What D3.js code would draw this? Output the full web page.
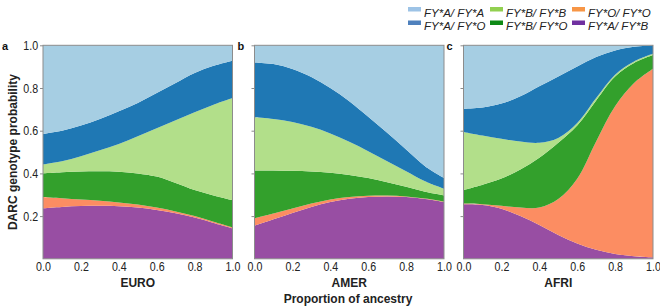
<!DOCTYPE html>
<html>
<head>
<meta charset="utf-8">
<script src="https://cdn.jsdelivr.net/npm/d3@7"></script>
<style>
  body { margin: 0; background: #fff; }
  svg { display: block; }
  .bold { font-family: "Liberation Sans", Arial, sans-serif; font-weight: bold; }
</style>
</head>
<body>
<svg width="660" height="306"></svg>
<script>
// proportion of ancestry (x)
var ancestry = [0, 0.1, 0.2, 0.3, 0.4, 0.5, 0.6, 0.7, 0.8, 0.9, 1.0];
var yTicks = [0.2, 0.4, 0.6, 0.8, 1.0];
var xTicks = [0, 0.2, 0.4, 0.6, 0.8, 1.0];
var panelNames = ["EURO", "AMER", "AFRI"];
var panelLetters = ["a", "b", "c"];

// stacking order, bottom -> top
var genotypes = ["AB", "OO", "BO", "BB", "AO", "AA"];
var genoLabels = { AA: "FY*A/ FY*A", AO: "FY*A/ FY*O", BB: "FY*B/ FY*B", BO: "FY*B/ FY*O", OO: "FY*O/ FY*O", AB: "FY*A/ FY*B" };
var legendOrder = ["AA", "BB", "OO", "AO", "BO", "AB"];

// EURO
var euroAB = [0.237, 0.243, 0.247, 0.248, 0.246, 0.240, 0.229, 0.213, 0.193, 0.168, 0.143];
var euroOO = [0.053, 0.041, 0.031, 0.024, 0.018, 0.014, 0.011, 0.009, 0.007, 0.006, 0.005];
var euroBO = [0.110, 0.121, 0.131, 0.138, 0.144, 0.146, 0.145, 0.133, 0.122, 0.123, 0.127];
var euroBB = [0.042, 0.052, 0.071, 0.098, 0.130, 0.174, 0.226, 0.294, 0.364, 0.425, 0.478];
var euroAO = [0.143, 0.143, 0.144, 0.147, 0.153, 0.156, 0.166, 0.174, 0.184, 0.182, 0.175];
var euroAA = [0.415, 0.400, 0.376, 0.345, 0.309, 0.270, 0.223, 0.177, 0.130, 0.096, 0.072];
// AMER
var amerAB = [0.155, 0.185, 0.215, 0.243, 0.266, 0.281, 0.289, 0.292, 0.289, 0.280, 0.266];
var amerOO = [0.035, 0.027, 0.021, 0.016, 0.012, 0.009, 0.006, 0.004, 0.003, 0.002, 0.002];
var amerBO = [0.224, 0.202, 0.176, 0.150, 0.125, 0.102, 0.083, 0.063, 0.045, 0.032, 0.029];
var amerBB = [0.249, 0.241, 0.229, 0.209, 0.184, 0.156, 0.126, 0.098, 0.073, 0.049, 0.031];
var amerAO = [0.257, 0.257, 0.248, 0.233, 0.213, 0.190, 0.161, 0.133, 0.102, 0.071, 0.051];
var amerAA = [0.080, 0.088, 0.111, 0.149, 0.200, 0.262, 0.335, 0.410, 0.488, 0.566, 0.621];
// AFRI
var afriAB = [0.255, 0.252, 0.235, 0.200, 0.158, 0.112, 0.072, 0.042, 0.023, 0.012, 0.007];
var afriOO = [0.004, 0.004, 0.013, 0.040, 0.082, 0.168, 0.303, 0.508, 0.691, 0.811, 0.883];
var afriBO = [0.063, 0.091, 0.128, 0.178, 0.233, 0.263, 0.249, 0.192, 0.140, 0.094, 0.064];
var afriBB = [0.272, 0.230, 0.186, 0.131, 0.070, 0.023, 0.012, 0.011, 0.008, 0.007, 0.006];
var afriAO = [0.109, 0.132, 0.165, 0.212, 0.265, 0.288, 0.265, 0.192, 0.114, 0.069, 0.039];
var afriAA = [0.297, 0.291, 0.273, 0.239, 0.192, 0.146, 0.099, 0.055, 0.024, 0.007, 0.001];

var areaColor = { AA: "#a6cee3", AO: "#1f78b4", BB: "#b2df8a", BO: "#33a02c", OO: "#fc8d62", AB: "#984ea3" };
var legendColor = { AA: "#9dc3e6", AO: "#4f81bd", BB: "#92d050", BO: "#0e8a16", OO: "#f79646", AB: "#7030a0" };

var panelSeries = [
  { AB: euroAB, OO: euroOO, BO: euroBO, BB: euroBB, AO: euroAO, AA: euroAA },
  { AB: amerAB, OO: amerOO, BO: amerBO, BB: amerBB, AO: amerAO, AA: amerAA },
  { AB: afriAB, OO: afriOO, BO: afriBO, BB: afriBB, AO: afriAO, AA: afriAA }
];

var svg = d3.select("svg");
var panelLeft = [43, 254.5, 463.5],
    panelW = 189.5,
    plotTop = 45.3, plotBottom = 258.8;

var y = d3.scaleLinear().domain([0, 1]).range([plotBottom, plotTop]);
var stack = d3.stack().keys(genotypes);

function styleTicks(sel) {
  sel.selectAll("text")
    .attr("font-family", "Liberation Sans, Arial, sans-serif")
    .attr("font-size", 13).attr("fill", "#222")
    .attr("transform", "scale(0.82,1)");
}

panelNames.forEach(function(name, p) {
  var x = d3.scaleLinear().domain([0, 1]).range([panelLeft[p], panelLeft[p] + panelW]);
  var s = panelSeries[p];
  var rows = ancestry.map(function(a, i) {
    var r = { a: a };
    genotypes.forEach(function(k) { r[k] = s[k][i]; });
    return r;
  });
  var area = d3.area()
      .x(function(d) { return x(d.data.a); })
      .y0(function(d) { return y(d[0]); })
      .y1(function(d) { return y(Math.min(1, d[1])); })
      .curve(d3.curveCatmullRom.alpha(0.5));

  var g = svg.append("g").attr("class", "panel");
  g.selectAll("path.layer")
    .data(stack(rows))
    .enter().append("path")
      .attr("class", "layer")
      .attr("d", area)
      .attr("fill", function(d) { return areaColor[d.key]; });

  g.append("rect")
    .attr("x", panelLeft[p]).attr("y", plotTop)
    .attr("width", panelW).attr("height", plotBottom - plotTop)
    .attr("fill", "none").attr("stroke", "#8c8c8c").attr("stroke-width", 1);

  var ya = g.append("g")
      .attr("transform", "translate(" + panelLeft[p] + ",0)")
      .call(d3.axisLeft(y).tickValues(yTicks).tickSize(3).tickPadding(3)
        .tickFormat(p === 0 ? d3.format(".1f") : function() { return ""; }));
  ya.select(".domain").remove();
  ya.selectAll("line").attr("stroke", "#8c8c8c");
  styleTicks(ya);

  var xa = g.append("g")
      .attr("transform", "translate(0," + plotBottom + ")")
      .call(d3.axisBottom(x).tickValues(xTicks).tickSize(0).tickPadding(3).tickFormat(d3.format(".1f")));
  xa.select(".domain").remove();
  styleTicks(xa);

  g.append("text")
    .attr("class", "bold")
    .attr("x", panelLeft[p] + panelW / 2).attr("y", 287)
    .attr("text-anchor", "middle").attr("font-size", 12).attr("fill", "#222")
    .text(name);

  g.append("text")
    .attr("class", "bold")
    .attr("x", p === 0 ? 2 : panelLeft[p] - 17).attr("y", 50)
    .attr("font-size", 11).attr("fill", "#111")
    .text(panelLetters[p]);
});

svg.append("text")
  .attr("class", "bold")
  .attr("transform", "translate(17," + ((plotTop + plotBottom) / 2) + ") rotate(-90)")
  .attr("text-anchor", "middle").attr("font-size", 12).attr("fill", "#222")
  .text("DARC genotype probability");

svg.append("text")
  .attr("class", "bold")
  .attr("x", 348).attr("y", 303)
  .attr("text-anchor", "middle").attr("font-size", 12).attr("fill", "#222")
  .text("Proportion of ancestry");

// legend: 2 rows x 3 columns
var legend = svg.append("g").attr("class", "legend");
var item = legend.selectAll("g")
  .data(legendOrder)
  .enter().append("g")
    .attr("transform", function(d, i) {
      return "translate(" + (408 + (i % 3) * 82) + "," + (16.5 + Math.floor(i / 3) * 13.5) + ")";
    });
item.append("rect")
  .attr("x", 0).attr("y", -9.5).attr("width", 13).attr("height", 4.5)
  .attr("fill", function(d) { return legendColor[d]; });
item.append("text")
  .attr("x", 16).attr("y", 0)
  .attr("font-family", "Liberation Sans, Arial, sans-serif")
  .attr("font-style", "italic").attr("font-size", 11.5).attr("fill", "#222")
  .text(function(d) { return genoLabels[d]; });
</script>
</body>
</html>
